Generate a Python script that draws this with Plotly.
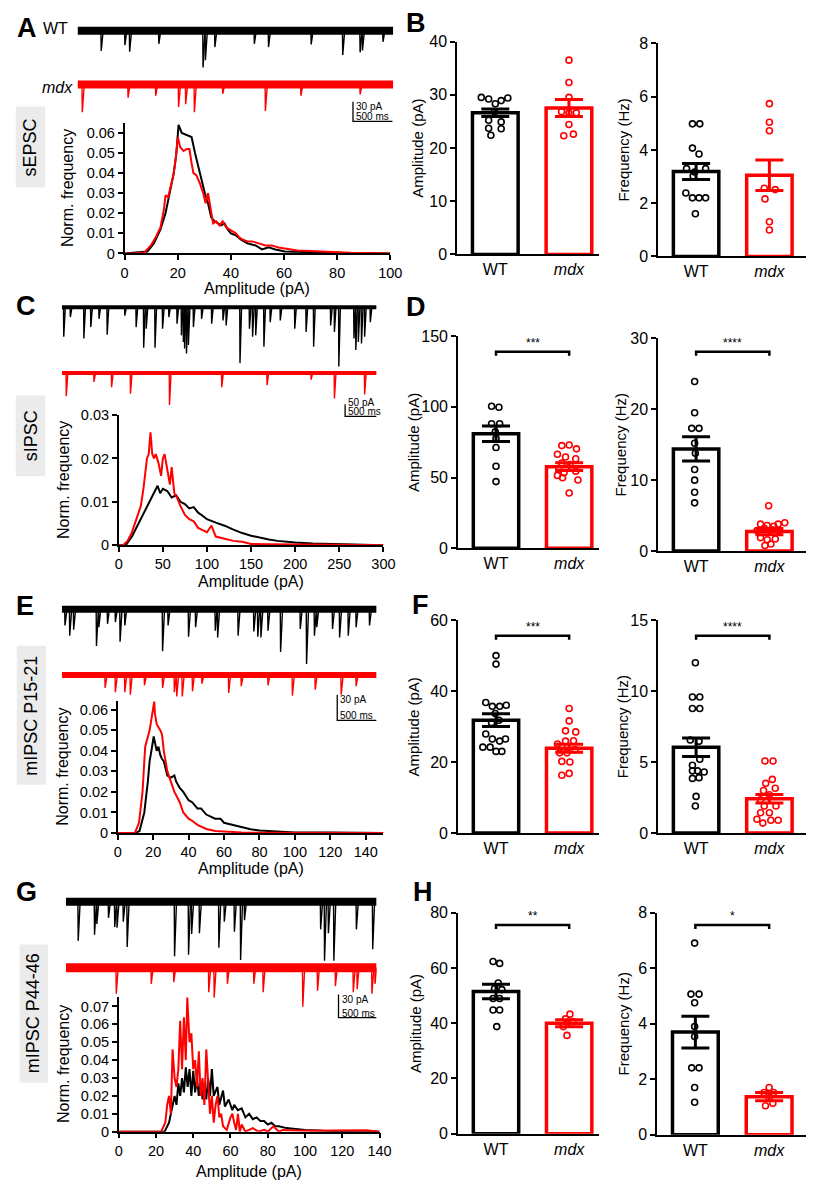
import plotly.graph_objects as go

W, H = 820, 1189
BLACK = "#000000"
RED = "#ff0000"
FONT = "Arial, Liberation Sans, sans-serif"

# ---------------- DATA ----------------
# Example traces: event times (s) and amplitudes (pA, downward)
A_WT_T = [0.30, 0.60, 0.66, 1.03, 1.59, 1.62, 1.74, 2.24, 2.42, 2.96, 3.36, 3.58, 3.61, 3.87]
A_WT_AMP = [31, 22, 32, 20, 56, 45, 25, 20, 25, 21, 37, 33, 30, 17]
A_MDX_T = [0.06, 0.64, 0.99, 1.28, 1.37, 1.48, 1.84, 2.38, 2.83, 3.58]
A_MDX_AMP = [42, 20, 17, 34, 30, 42, 14, 40, 17, 15]

C_WT_T = [0.03, 0.135, 0.35, 0.46, 0.59, 0.72, 1.00, 1.18, 1.30, 1.34, 1.48, 1.60, 1.70, 1.83, 1.90,
          1.93, 1.95, 1.98, 2.01, 2.09, 2.22, 2.38, 2.56, 2.61, 2.83, 2.98, 3.03, 3.08, 3.21, 3.31,
          3.47, 3.70, 3.88, 4.00, 4.27, 4.33, 4.40, 4.64, 4.67, 4.71, 4.76, 4.81, 4.90]
C_WT_AMP = [121, 40, 128, 81, 47, 112, 34, 81, 166, 88, 166, 88, 40, 67, 115,
            142, 169, 189, 155, 81, 47, 67, 54, 74, 229, 88, 121, 115, 162, 61,
            54, 88, 101, 162, 74, 101, 243, 128, 175, 142, 148, 121, 61]
C_MDX_T = [0.07, 0.51, 0.79, 1.09, 1.71, 2.54, 3.26, 3.96, 4.33, 4.81]
C_MDX_AMP = [95, 36, 58, 85, 131, 58, 50, 27, 104, 88]

E_WT_T = [0.04, 0.10, 0.15, 0.44, 0.47, 0.58, 0.68, 0.74, 0.80, 1.28, 1.35, 1.61, 1.70, 1.95, 1.98,
          2.24, 2.44, 2.49, 2.53, 2.62, 2.78, 3.03, 3.11, 3.21, 3.24, 3.44, 3.53, 3.64, 3.74, 3.91]
E_WT_AMP = [19, 31, 24, 43, 21, 17, 15, 38, 19, 49, 19, 32, 21, 25, 33,
            31, 26, 32, 33, 25, 50, 23, 64, 31, 21, 23, 33, 31, 21, 19]
E_MDX_T = [0.55, 0.68, 0.80, 0.87, 1.05, 1.28, 1.43, 1.46, 1.53, 1.66, 1.78, 2.12, 2.28, 2.62,
           2.93, 3.22, 3.55, 3.74]
E_MDX_AMP = [15, 20, 20, 23, 12, 15, 20, 25, 25, 19, 10, 21, 13, 12, 24, 17, 23, 13]

G_WT_T = [0.16, 0.37, 0.40, 0.55, 0.63, 0.66, 0.74, 0.79, 1.40, 1.58, 1.62, 1.72, 1.97, 2.04,
          2.17, 2.25, 2.30, 3.28, 3.33, 3.38, 3.45, 3.74, 3.95]
G_WT_AMP = [51, 43, 29, 21, 33, 34, 26, 59, 71, 69, 42, 41, 60, 26, 39, 76, 24, 36, 77, 41, 77, 36, 62]
G_MDX_T = [0.65, 1.10, 1.39, 1.84, 1.91, 2.08, 2.42, 2.54, 3.05, 3.24, 3.47, 3.70, 3.75, 3.94, 3.98]
G_MDX_AMP = [34, 21, 19, 32, 39, 21, 21, 32, 51, 30, 24, 32, 28, 34, 21]

# Amplitude distributions (pA, normalized frequency)
A_H_WT_X = [0, 8.6, 11, 13.5, 15.4, 16.6, 17.9, 18.5, 19.5, 20.3, 21.5, 23.4, 25.2, 26.5, 27.7, 28.9,
            30.2, 31.4, 32.6, 33.9, 35.1, 36.3, 37.6, 38.8, 40, 41.9, 43.7, 46.2, 49.3, 51.7, 54.2,
            56.7, 60.3, 65, 71, 77.6, 83.7, 90, 100]
A_H_WT_Y = [0, 0.001, 0.005, 0.012, 0.02, 0.028, 0.035, 0.04, 0.05, 0.064, 0.06, 0.059, 0.058, 0.05,
            0.043, 0.037, 0.03, 0.025, 0.018, 0.016, 0.015, 0.014, 0.015, 0.012, 0.01, 0.009, 0.007,
            0.005, 0.004, 0.002, 0.003, 0.002, 0.001, 0.0008, 0.0005, 0.0004, 0.0002, 0.0002, 0]
A_H_MDX_X = [0, 3.7, 7.4, 9.9, 11.7, 13.5, 14.8, 15.4, 16.4, 17.2, 18.5, 19.3, 20, 20.9, 22.2, 23.4,
             24.4, 25.2, 25.9, 27, 28.3, 29.6, 30.5, 31.4, 32, 33.3, 34.5, 35.7, 36.9, 38.2, 39.4,
             40.6, 41.9, 43.1, 44.3, 46.2, 48, 50.5, 53, 55.4, 57.9, 60.3, 62.8, 65, 70, 75, 80,
             85, 90, 100]
A_H_MDX_Y = [0, 0, 0.0005, 0.004, 0.008, 0.013, 0.022, 0.029, 0.028, 0.033, 0.04, 0.048, 0.058,
             0.053, 0.051, 0.052, 0.052, 0.045, 0.04, 0.039, 0.035, 0.03, 0.025, 0.03, 0.025, 0.015,
             0.016, 0.014, 0.016, 0.013, 0.012, 0.011, 0.01, 0.008, 0.007, 0.006, 0.006, 0.005,
             0.004, 0.004, 0.003, 0.0025, 0.002, 0.0015, 0.0012, 0.0008, 0.0006, 0.0003, 0.0002, 0]

C_H_WT_X = [0, 8, 15, 20, 25, 30, 35, 40, 44, 47, 50, 55, 60, 65, 70, 75, 80, 85, 90, 95, 100, 110,
            120, 130, 140, 150, 160, 170, 180, 190, 200, 220, 250, 270, 300]
C_H_WT_Y = [0, 0, 0.002, 0.004, 0.006, 0.008, 0.010, 0.012, 0.0137, 0.012, 0.013, 0.0125, 0.011,
            0.0115, 0.010, 0.0095, 0.0085, 0.0088, 0.0075, 0.0068, 0.006, 0.0052, 0.0045, 0.0036,
            0.0028, 0.0022, 0.0017, 0.0013, 0.001, 0.0008, 0.0006, 0.0004, 0.0002, 0.0001, 0]
C_H_MDX_X = [0, 5, 10, 15, 20, 25, 28, 30, 32, 34, 36, 38, 40, 42, 45, 48, 50, 52, 55, 58, 60, 63,
             66, 70, 75, 80, 85, 90, 95, 100, 105, 110, 120, 130, 140, 150, 170, 200, 250, 300]
C_H_MDX_Y = [0, 0, 0.001, 0.003, 0.006, 0.009, 0.013, 0.016, 0.020, 0.021, 0.026, 0.021, 0.020,
             0.021, 0.019, 0.016, 0.020, 0.021, 0.017, 0.014, 0.018, 0.012, 0.011, 0.009, 0.007,
             0.006, 0.0055, 0.004, 0.0035, 0.003, 0.0045, 0.002, 0.0015, 0.001, 0.0008, 0.0003,
             0.0002, 0.0001, 0.0001, 0]

E_H_WT_X = [0, 10, 12.3, 15, 17, 18, 19, 20.3, 22, 23, 24, 25, 26, 28, 30, 32, 33, 35, 37, 40, 42,
            45, 47, 50, 55, 58, 60, 65, 70, 75, 80, 85, 90, 100, 120, 150]
E_H_WT_Y = [0, 0, 0.001, 0.01, 0.025, 0.035, 0.04, 0.047, 0.04, 0.042, 0.038, 0.036, 0.035, 0.028,
            0.027, 0.028, 0.025, 0.022, 0.02, 0.016, 0.015, 0.012, 0.012, 0.009, 0.007, 0.007,
            0.005, 0.004, 0.003, 0.0018, 0.0012, 0.001, 0.0006, 0.0003, 0.0002, 0]
E_H_MDX_X = [0, 9.6, 12, 14, 15, 15.5, 18, 19, 20.6, 21, 22, 24, 25, 26, 28, 30, 32, 35, 37, 40, 42,
             45, 50, 55, 60, 70, 80, 150]
E_H_MDX_Y = [0, 0, 0.005, 0.02, 0.035, 0.042, 0.05, 0.055, 0.064, 0.058, 0.053, 0.05, 0.048, 0.04,
             0.03, 0.025, 0.02, 0.015, 0.01, 0.007, 0.006, 0.004, 0.002, 0.001, 0.0007, 0.0003,
             0.0001, 0]

G_H_WT_X = [0, 24.6, 27, 28, 30, 31, 32, 33, 34, 35, 36, 37, 38, 39, 40, 41, 42, 43, 44, 45, 46, 47,
            48, 49, 50, 51, 53, 54, 56, 57, 59, 61, 62, 64, 66, 68, 70, 72, 74, 76, 78, 80, 82, 84,
            86, 90, 95, 100, 110, 120, 140]
G_H_WT_Y = [0, 0, 0.005, 0.01, 0.02, 0.015, 0.027, 0.02, 0.03, 0.022, 0.036, 0.025, 0.035, 0.02,
            0.034, 0.022, 0.03, 0.02, 0.028, 0.018, 0.027, 0.018, 0.03, 0.02, 0.035, 0.02, 0.025,
            0.015, 0.023, 0.014, 0.018, 0.012, 0.015, 0.012, 0.013, 0.008, 0.01, 0.007, 0.008,
            0.006, 0.006, 0.004, 0.005, 0.003, 0.003, 0.002, 0.0015, 0.001, 0.0005, 0.0004, 0]
G_H_MDX_X = [0, 22.8, 25, 26, 27, 28, 28.9, 30, 31, 32, 33, 34, 35, 36, 36.8, 38, 39, 40, 41, 42,
             43, 44, 45, 46, 47, 48, 49, 50, 51, 52, 53, 54, 55, 56, 58, 60, 61, 62, 63, 64, 65,
             66, 68, 70, 72, 75, 78, 80, 83, 86, 88, 100, 133, 140]
G_H_MDX_Y = [0, 0, 0.005, 0.015, 0.02, 0.01, 0.046, 0.03, 0.025, 0.035, 0.062, 0.035, 0.064, 0.04,
             0.075, 0.05, 0.055, 0.035, 0.04, 0.025, 0.045, 0.02, 0.03, 0.015, 0.046, 0.03, 0.01,
             0.02, 0.005, 0.015, 0.02, 0.008, 0.01, 0.003, 0.001, 0.008, 0.01, 0.005, 0.001, 0.01,
             0.0, 0.004, 0.0, 0.001, 0.002, 0.0, 0.001, 0.0, 0.003, 0.0, 0.001, 0.0005, 0.0008, 0]

# Bar summaries: group means, SEM, individual cells (jitter offset, value)
GROUPS = ["WT", "<i>mdx</i>"]

B_AMP_MEAN = [26.6, 27.5]; B_AMP_SEM = [0.7, 1.6]
B_AMP_WT_OFF = [-0.19, -0.09, 0.0, 0.08, 0.17, -0.01, -0.09, 0.08, -0.09, 0.08, -0.06]
B_AMP_WT_VAL = [29.5, 29.2, 28.3, 28.9, 29.4, 26.8, 25.2, 24.9, 23.7, 23.6, 22.4]
B_AMP_MDX_OFF = [0, 0, 0, -0.10, 0.0, 0.10, 0.0, -0.07, 0.06]
B_AMP_MDX_VAL = [36.5, 32.3, 29.5, 26.8, 26.6, 26.6, 24.4, 22.3, 22.6]
B_FRQ_MEAN = [3.19, 3.05]; B_FRQ_SEM = [0.30, 0.57]
B_FRQ_WT_OFF = [-0.05, 0.05, -0.05, 0.04, -0.13, -0.02, 0.13, -0.04, -0.14, -0.05, 0.04, 0.13, -0.01]
B_FRQ_WT_VAL = [4.98, 4.98, 4.07, 3.85, 3.30, 3.17, 3.30, 3.02, 2.38, 2.20, 2.20, 2.20, 1.60]
B_FRQ_MDX_OFF = [0, 0, 0, -0.07, 0.08, -0.06, 0, 0]
B_FRQ_MDX_VAL = [5.74, 5.04, 4.72, 2.56, 2.51, 2.16, 1.30, 0.99]

D_AMP_MEAN = [81.0, 57.7]; D_AMP_SEM = [5.5, 2.8]
D_AMP_WT_OFF = [-0.06, 0.04, -0.06, 0.05, -0.01, 0.0, 0.0, 0.0, 0.0]
D_AMP_WT_VAL = [100.4, 99.7, 88.1, 88.1, 82.3, 77.7, 71.2, 58.0, 47.1]
D_AMP_MDX_OFF = [-0.10, 0.0, 0.10, -0.16, -0.05, 0.09, -0.10, -0.14, -0.07, 0.09, -0.16, -0.09, 0.12, 0.0, 0.01]
D_AMP_MDX_VAL = [72.6, 73.0, 70.3, 66.5, 64.5, 63.3, 60.3, 55.6, 53.3, 54.5, 51.5, 49.8, 48.2, 39.0, 59.1]
D_FRQ_MEAN = [14.4, 2.75]; D_FRQ_SEM = [1.7, 0.45]
D_FRQ_WT_OFF = [-0.02, -0.02, -0.06, 0.04, -0.02, -0.01, -0.02, -0.02, -0.02, -0.02]
D_FRQ_WT_VAL = [23.9, 19.5, 17.3, 17.3, 15.2, 13.8, 11.5, 10.0, 8.3, 6.8]
D_FRQ_MDX_OFF = [-0.01, -0.12, -0.03, 0.06, 0.12, 0.21, -0.07, 0.04, -0.17, 0.13, -0.12, -0.03, 0.08, -0.06, 0.02]
D_FRQ_MDX_VAL = [6.4, 3.8, 3.6, 3.5, 3.8, 4.0, 3.2, 3.0, 2.9, 2.9, 1.9, 1.6, 1.7, 0.8, 1.0]

F_AMP_MEAN = [31.8, 23.9]; F_AMP_SEM = [1.8, 1.1]
F_AMP_WT_OFF = [0, 0, -0.14, -0.05, 0.05, 0.14, -0.01, -0.06, 0.04, -0.14, -0.05, 0.05, 0.13, -0.18, -0.08, 0.0, 0.08]
F_AMP_WT_VAL = [50.0, 47.6, 36.8, 35.7, 35.7, 36.0, 33.7, 31.1, 31.8, 27.9, 26.5, 25.9, 26.5, 24.2, 24.2, 23.0, 23.0]
F_AMP_MDX_OFF = [0, 0, -0.05, 0.09, -0.05, 0.06, -0.16, -0.10, 0.08, -0.13, -0.03, -0.10, 0.01, -0.10, 0.0]
F_AMP_MDX_VAL = [35.1, 31.6, 28.8, 28.5, 25.9, 26.0, 25.1, 24.4, 23.5, 22.6, 22.6, 20.2, 20.0, 16.3, 16.8]
F_FRQ_MEAN = [6.05, 2.42]; F_FRQ_SEM = [0.65, 0.30]
F_FRQ_WT_OFF = [-0.01, -0.05, 0.05, -0.05, 0.05, -0.08, 0.04, 0.05, -0.05, -0.05, 0.02, 0.11, -0.05, 0.04, 0.0, -0.01]
F_FRQ_WT_VAL = [12.0, 9.58, 9.58, 8.77, 8.77, 6.55, 6.46, 5.2, 4.78, 4.38, 4.38, 4.3, 3.85, 3.9, 2.58, 1.9]
F_FRQ_MDX_OFF = [-0.06, 0.05, 0.04, -0.05, -0.08, 0.08, 0.0, -0.12, -0.07, 0.09, -0.12, 0.0, -0.17, -0.09, 0.02, 0.12]
F_FRQ_MDX_VAL = [5.08, 5.08, 3.78, 3.5, 3.0, 3.16, 2.7, 2.35, 1.9, 1.9, 1.43, 1.43, 0.97, 0.7, 0.9, 0.9]

H_AMP_MEAN = [51.5, 40.0]; H_AMP_SEM = [2.6, 1.3]
H_AMP_WT_OFF = [-0.04, 0.05, 0.03, -0.02, 0.08, -0.04, 0.05, -0.04, 0.05, 0.01]
H_AMP_WT_VAL = [62.4, 61.7, 54.6, 52.5, 52.2, 49.0, 49.0, 44.8, 44.8, 38.8]
H_AMP_MDX_OFF = [0.01, -0.05, 0.05, -0.08, -0.03]
H_AMP_MDX_VAL = [43.3, 41.6, 40.6, 38.8, 35.6]
H_FRQ_MEAN = [3.70, 1.37]; H_FRQ_SEM = [0.57, 0.15]
H_FRQ_WT_OFF = [-0.01, -0.06, 0.05, -0.01, -0.01, -0.01, -0.05, 0.05, -0.01, -0.01]
H_FRQ_WT_VAL = [6.91, 5.07, 5.07, 4.76, 3.90, 3.54, 2.41, 2.41, 1.70, 1.17]
H_FRQ_MDX_OFF = [0, -0.07, 0.06, 0, -0.05, 0.05]
H_FRQ_MDX_VAL = [1.70, 1.52, 1.52, 1.32, 1.04, 1.13]

# significance brackets (data y) and labels
D_AMP_SIG = (139, "***"); D_FRQ_SIG = (28.1, "****")
F_AMP_SIG = (55.6, "***"); F_FRQ_SIG = (13.9, "****")
H_AMP_SIG = (75.6, "**"); H_FRQ_SIG = (7.56, "*")

# ---------------- FIGURE ----------------
fig = go.Figure()
layout = dict(autosize=True, margin=dict(l=0, r=0, t=0, b=0, pad=0),
              paper_bgcolor="white", plot_bgcolor="rgba(0,0,0,0)",
              showlegend=False, barmode="overlay", annotations=[], shapes=[],
              font=dict(family=FONT, color=BLACK))
_n = [0]


def new_axes(xpx, ypx, xrange, yrange, xopts=None, yopts=None):
    _n[0] += 1
    n = _n[0]
    s = "" if n == 1 else str(n)
    xo = dict(xopts or {})
    yo = dict(yopts or {})
    layout["xaxis" + s] = dict(domain=[xpx[0] / W, xpx[1] / W], range=xrange, anchor="y" + s,
                               fixedrange=True, **xo)
    layout["yaxis" + s] = dict(domain=[1 - ypx[1] / H, 1 - ypx[0] / H], range=yrange, anchor="x" + s,
                               fixedrange=True, **yo)
    return "x" + s, "y" + s


def paper_text(text, px, py, size, angle=0, bold=False, xanchor="center", yanchor="middle"):
    if bold:
        text = "<b>" + text + "</b>"
    layout["annotations"].append(dict(text=text, x=px / W, y=1 - py / H, xref="paper", yref="paper",
                                      showarrow=False, textangle=angle, xanchor=xanchor,
                                      yanchor=yanchor, font=dict(size=size, family=FONT, color=BLACK)))


HIDDEN = dict(visible=False, showgrid=False, zeroline=False)


def trace_panel(xpx, T, ypx, base_py, ppa, mdx_base, wt, mdx, bands, sb):
    yr = [-(ypx[1] - base_py) / ppa, (base_py - ypx[0]) / ppa]
    xr, yrf = new_axes(xpx, ypx, [0, T], yr, HIDDEN, HIDDEN)
    for (ts, amps), base, color, bw in [(wt, 0, BLACK, bands[0]), (mdx, mdx_base, RED, bands[1])]:
        fig.add_trace(go.Scatter(x=[0, T], y=[base, base], mode="lines",
                                 line=dict(color=color, width=bw), xaxis=xr, yaxis=yrf,
                                 hoverinfo="skip"))
        ex, ey = [], []
        for t, a in zip(ts, amps):
            ex += [t - 0.004, t, t + 0.025, None]
            ey += [base, base - a, base, None]
        fig.add_trace(go.Scatter(x=ex, y=ey, mode="lines", line=dict(color=color, width=1.4),
                                 xaxis=xr, yaxis=yrf, hoverinfo="skip", connectgaps=False))
    t0, top, amp, dur, label, lab_shift = sb
    fig.add_trace(go.Scatter(x=[t0, t0, t0 + dur], y=[top, top - amp, top - amp], mode="lines",
                             line=dict(color=BLACK, width=1.3), xaxis=xr, yaxis=yrf, hoverinfo="skip"))
    layout["annotations"].append(dict(text=label, x=t0, y=top, xref=xr, yref=yrf, showarrow=False,
                                      xanchor="left", yanchor="top", xshift=1, yshift=lab_shift,
                                      font=dict(size=10, family=FONT, color=BLACK)))
    layout["annotations"].append(dict(text="500 ms", x=t0, y=top - amp, xref=xr, yref=yrf,
                                      showarrow=False, xanchor="left", yanchor="bottom", xshift=1,
                                      yshift=-3, font=dict(size=10, family=FONT, color=BLACK)))


AX = dict(showline=True, linecolor=BLACK, linewidth=1.5, ticks="outside", ticklen=5, tickwidth=1.5,
          tickcolor=BLACK, showgrid=False, zeroline=False, tickfont=dict(size=14.5, family=FONT, color=BLACK))


def hist_panel(xpx, ypx, xmax_range, ymax_range, xt, yt, ytl, wt, mdx, ytitle_px, xtitle_py):
    xo = dict(AX, tickvals=xt)
    yo = dict(AX, tickvals=yt, ticktext=ytl)
    xr, yr = new_axes(xpx, ypx, [0, xmax_range], [0, ymax_range], xo, yo)
    for (xs, ys), c in [(wt, BLACK), (mdx, RED)]:
        fig.add_trace(go.Scatter(x=xs, y=ys, mode="lines", line=dict(color=c, width=2),
                                 xaxis=xr, yaxis=yr, hoverinfo="skip", cliponaxis=False))
    paper_text("Norm. frequency", ytitle_px, (ypx[0] + ypx[1]) / 2, 16, angle=-90)
    paper_text("Amplitude (pA)", (xpx[0] + xpx[1]) / 2, xtitle_py, 16)


def bar_panel(xpx, ypx, xrange, yrange, yt, means, sems, wt_pts, mdx_pts, title, title_px, sig=None):
    xo = dict(showline=True, linecolor=BLACK, linewidth=1.5, ticks="", showgrid=False, zeroline=False,
              tickvals=[0, 1], ticktext=GROUPS, tickfont=dict(size=16, family=FONT, color=BLACK))
    yo = dict(AX, tickvals=yt, tickfont=dict(size=16, family=FONT, color=BLACK))
    xr, yr = new_axes(xpx, ypx, xrange, yrange, xo, yo)
    for i, (m, s, c, pts) in enumerate(zip(means, sems, [BLACK, RED], [wt_pts, mdx_pts])):
        fig.add_trace(go.Bar(x=[i], y=[m], width=0.62,
                             marker=dict(color="white", line=dict(color=c, width=3.5)),
                             xaxis=xr, yaxis=yr, hoverinfo="skip"))
        fig.add_trace(go.Scatter(x=[i + o for o in pts[0]], y=pts[1], mode="markers",
                                 marker=dict(symbol="circle-open", size=6, color=c, line=dict(width=1.6)),
                                 xaxis=xr, yaxis=yr, hoverinfo="skip", cliponaxis=False))
        fig.add_trace(go.Scatter(x=[i], y=[m], mode="markers", marker=dict(size=1, color=c, opacity=0),
                                 error_y=dict(type="data", array=[s], color=c, thickness=3, width=14),
                                 xaxis=xr, yaxis=yr, hoverinfo="skip", cliponaxis=False))
    paper_text(title, title_px, (ypx[0] + ypx[1]) / 2, 15, angle=-90)
    if sig is not None:
        by, stars = sig
        d = 4 * (yrange[1] - yrange[0]) / (ypx[1] - ypx[0])
        fig.add_trace(go.Scatter(x=[0, 0, 1, 1], y=[by - d, by, by, by - d], mode="lines",
                                 line=dict(color=BLACK, width=2.5), xaxis=xr, yaxis=yr,
                                 hoverinfo="skip", cliponaxis=False))
        layout["annotations"].append(dict(text=stars, x=0.5, y=by, xref=xr, yref=yr, showarrow=False,
                                          xanchor="center", yanchor="bottom", yshift=0,
                                          font=dict(size=12, family=FONT, color=BLACK)))


# ---- Row A/B ----
trace_panel((75, 397), 4, (6, 122), 23, 0.667, -82, (A_WT_T, A_WT_AMP), (A_MDX_T, A_MDX_AMP),
            (8, 8), (3.49, -108, 30, 0.5, "30 pA", 3))
hist_panel((123, 394), (117, 249), 100, 0.0648, [0, 20, 40, 60, 80, 100],
           [0, 0.01, 0.02, 0.03, 0.04, 0.05, 0.06], ["0", "0.01", "0.02", "0.03", "0.04", "0.05", "0.06"],
           (A_H_WT_X, A_H_WT_Y), (A_H_MDX_X, A_H_MDX_Y), 65, 285)
bar_panel((462, 607), (34, 250), [-0.52, 1.41], [0, 40], [0, 10, 20, 30, 40], B_AMP_MEAN, B_AMP_SEM,
          (B_AMP_WT_OFF, B_AMP_WT_VAL), (B_AMP_MDX_OFF, B_AMP_MDX_VAL), "Amplitude (pA)", 422)
bar_panel((667, 818), (36, 252), [-0.52, 1.50], [0, 8], [0, 2, 4, 6, 8], B_FRQ_MEAN, B_FRQ_SEM,
          (B_FRQ_WT_OFF, B_FRQ_WT_VAL), (B_FRQ_MDX_OFF, B_FRQ_MDX_VAL), "Frequency (Hz)", 632)

# ---- Row C/D ----
trace_panel((59, 380), 5, (288, 422), 303.7, 0.247, -270, (C_WT_T, C_WT_AMP), (C_MDX_T, C_MDX_AMP),
            (4, 4), (4.5, -398, 50, 0.5, "50 pA", 9))
hist_panel((117, 387), (413, 545), 300, 0.03, [0, 50, 100, 150, 200, 250, 300],
           [0, 0.01, 0.02, 0.03], ["0", "0.01", "0.02", "0.03"],
           (C_H_WT_X, C_H_WT_Y), (C_H_MDX_X, C_H_MDX_Y), 60, 582)
bar_panel((463, 607), (333, 548), [-0.52, 1.41], [0, 150], [0, 50, 100, 150], D_AMP_MEAN, D_AMP_SEM,
          (D_AMP_WT_OFF, D_AMP_WT_VAL), (D_AMP_MDX_OFF, D_AMP_MDX_VAL), "Amplitude (pA)", 417, D_AMP_SIG)
bar_panel((667, 818), (335, 551), [-0.52, 1.50], [0, 30], [0, 10, 20, 30], D_FRQ_MEAN, D_FRQ_SEM,
          (D_FRQ_WT_OFF, D_FRQ_WT_VAL), (D_FRQ_MDX_OFF, D_FRQ_MDX_VAL), "Frequency (Hz)", 629, D_FRQ_SIG)

# ---- Row E/F ----
trace_panel((59, 380), 4, (595, 732), 610, 0.867, -77, (E_WT_T, E_WT_AMP), (E_MDX_T, E_MDX_AMP),
            (7, 6), (3.5, -100, 30, 0.5, "30 pA", 3))
hist_panel((116, 387), (703, 837), 150, 0.0643, [0, 20, 40, 60, 80, 100, 120, 140],
           [0, 0.01, 0.02, 0.03, 0.04, 0.05, 0.06], ["0", "0.01", "0.02", "0.03", "0.04", "0.05", "0.06"],
           (E_H_WT_X, E_H_WT_Y), (E_H_MDX_X, E_H_MDX_Y), 60, 873)
bar_panel((463, 607), (621, 837), [-0.52, 1.41], [0, 60], [0, 20, 40, 60], F_AMP_MEAN, F_AMP_SEM,
          (F_AMP_WT_OFF, F_AMP_WT_VAL), (F_AMP_MDX_OFF, F_AMP_MDX_VAL), "Amplitude (pA)", 418, F_AMP_SIG)
bar_panel((667, 818), (621, 837), [-0.52, 1.50], [0, 15], [0, 5, 10, 15], F_FRQ_MEAN, F_FRQ_SEM,
          (F_FRQ_WT_OFF, F_FRQ_WT_VAL), (F_FRQ_MDX_OFF, F_FRQ_MDX_VAL), "Frequency (Hz)", 631, F_FRQ_SIG)

# ---- Row G/H ----
trace_panel((63, 380), 4, (888, 1032), 906.7, 0.778, -86, (G_WT_T, G_WT_AMP), (G_MDX_T, G_MDX_AMP),
            (8, 9), (3.51, -121, 30, 0.49, "30 pA", 3))
hist_panel((117, 383), (1003, 1140), 140, 0.0755, [0, 20, 40, 60, 80, 100, 120, 140],
           [0, 0.01, 0.02, 0.03, 0.04, 0.05, 0.06, 0.07],
           ["0", "0.01", "0.02", "0.03", "0.04", "0.05", "0.06", "0.07"],
           (G_H_WT_X, G_H_WT_Y), (G_H_MDX_X, G_H_MDX_Y), 60, 1180)
bar_panel((463, 607), (918, 1142), [-0.52, 1.41], [0, 80], [0, 20, 40, 60, 80], H_AMP_MEAN, H_AMP_SEM,
          (H_AMP_WT_OFF, H_AMP_WT_VAL), (H_AMP_MDX_OFF, H_AMP_MDX_VAL), "Amplitude (pA)", 419, H_AMP_SIG)
bar_panel((666, 818), (918, 1143), [-0.52, 1.50], [0, 8], [0, 2, 4, 6, 8], H_FRQ_MEAN, H_FRQ_SEM,
          (H_FRQ_WT_OFF, H_FRQ_WT_VAL), (H_FRQ_MDX_OFF, H_FRQ_MDX_VAL), "Frequency (Hz)", 632, H_FRQ_SIG)

# ---- labels, boxes ----
for letter, px, py in [("A", 23, 20), ("B", 420, 15), ("C", 22, 302), ("D", 420, 303),
                       ("E", 21, 607), ("F", 425, 606), ("G", 23, 897), ("H", 427, 897)]:
    paper_text(letter, px, py, 27, bold=True)

paper_text("WT", 53, 21, 16)
paper_text("<i>mdx</i>", 55, 81, 16)

for label, x0, x1, y0, y1 in [("sEPSC", 12, 42, 100, 182), ("sIPSC", 12, 42, 393, 475),
                              ("mIPSC P15-21", 13, 43, 647, 788), ("mIPSC P44-46", 16, 45, 950, 1090)]:
    layout["shapes"].append(dict(type="rect", xref="paper", yref="paper", x0=x0 / W, x1=x1 / W,
                                 y0=1 - y1 / H, y1=1 - y0 / H, fillcolor="#ebebeb", line=dict(width=0),
                                 layer="below"))
    paper_text(label, (x0 + x1) / 2, (y0 + y1) / 2, 18, angle=-90)

fig.update_layout(**layout)
# The plot div is pinned to the page corner at exactly 820x1189 so body margins do not shift it.
fig.write_html("out.html",
               config={"displayModeBar": False, "responsive": False},
               default_width="%dpx" % W,
               default_height="%dpx; position:absolute; left:0; top:0" % H,
               post_script="document.body.style.margin='0';document.body.style.overflow='hidden';")
